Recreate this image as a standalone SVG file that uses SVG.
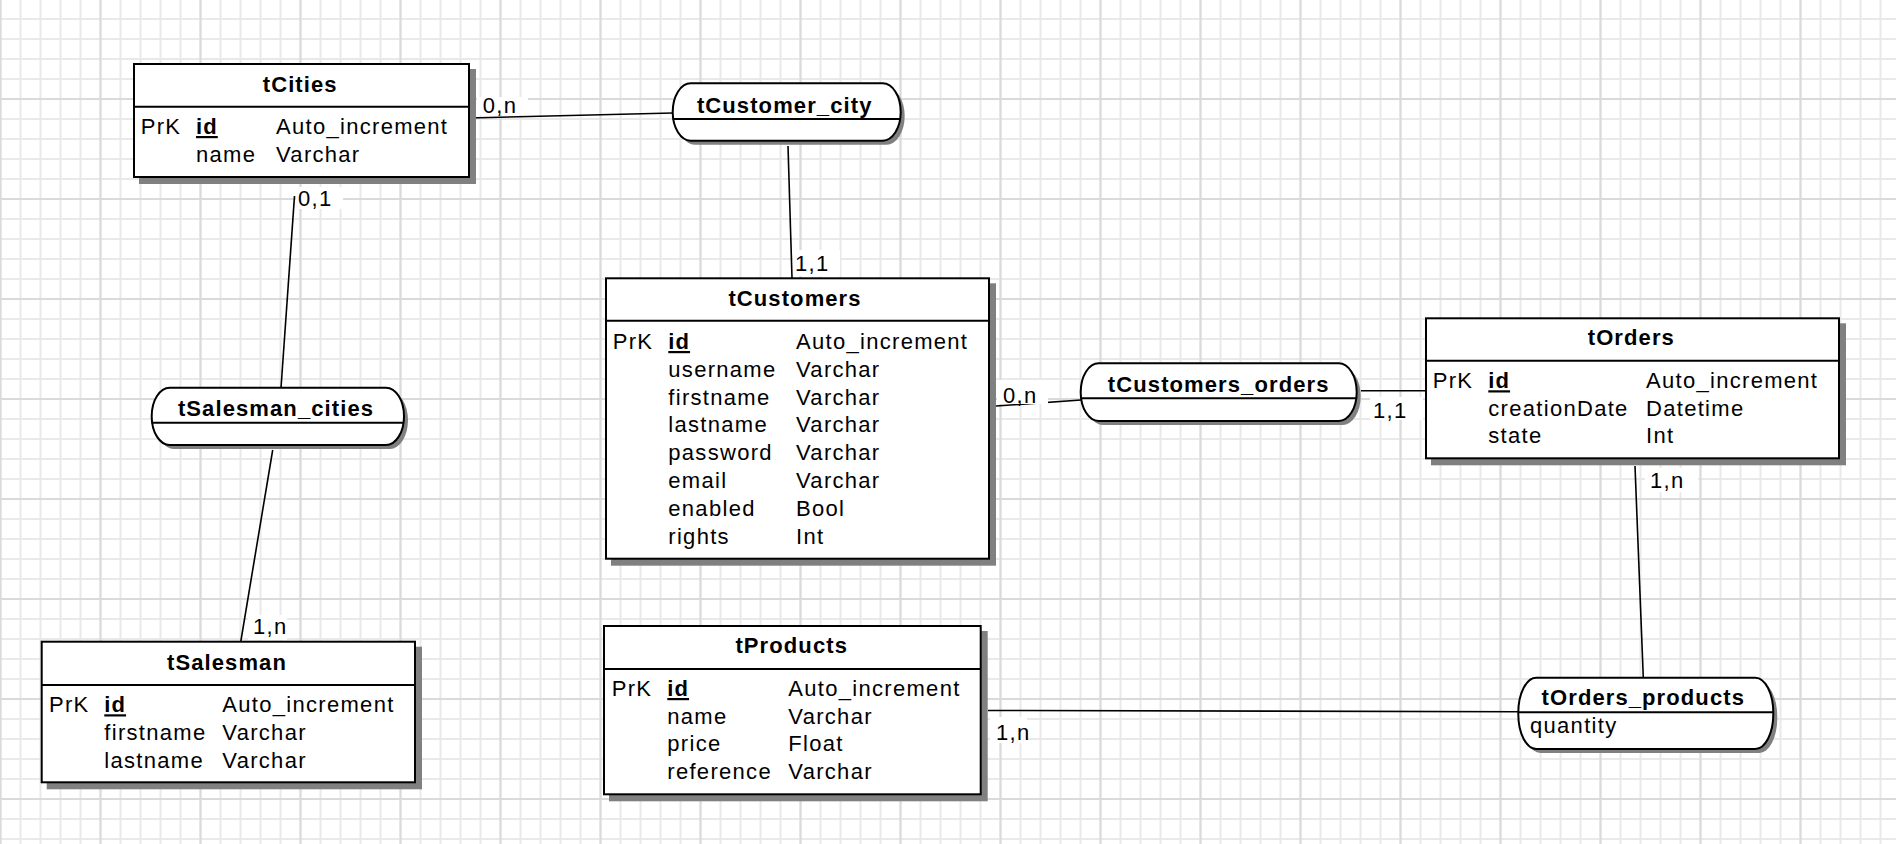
<svg xmlns="http://www.w3.org/2000/svg" width="1896" height="844" viewBox="0 0 1896 844">
<defs>
<pattern id="minor" patternUnits="userSpaceOnUse" x="-9.5" y="-11" width="20" height="20">
<path d="M10 0V20M0 10H20" stroke="#e9e9e9" stroke-width="2" fill="none"/>
</pattern>
<pattern id="major" patternUnits="userSpaceOnUse" x="-49.5" y="-51" width="100" height="100">
<path d="M50 0V100M0 50H100" stroke="#dadada" stroke-width="2" fill="none"/>
</pattern>
</defs>
<style>
text{font-family:"Liberation Sans",Arial,sans-serif;font-size:22px;fill:#000;letter-spacing:1.3px}
.t{font-weight:bold;text-anchor:middle;letter-spacing:1.1px}
.k{font-weight:bold;text-decoration:underline;letter-spacing:1.1px}
.box{fill:#fff;stroke:#000;stroke-width:2}
.sh{fill:#808080}
.sep{stroke:#000;stroke-width:2}
.pill{fill:#fff;stroke:#000;stroke-width:2}
.con line{stroke:#000;stroke-width:1.6}
.lb{fill:#fff}
</style>
<rect width="1896" height="844" fill="#fff"/>
<rect width="1896" height="844" fill="url(#minor)"/>
<rect width="1896" height="844" fill="url(#major)"/>

<g id="connectors" class="con">
<line x1="469" y1="118" x2="673" y2="113"/>
<line x1="788" y1="146" x2="792" y2="278"/>
<line x1="294.5" y1="196" x2="281" y2="388"/>
<line x1="272.7" y1="450" x2="240.7" y2="642"/>
<line x1="996" y1="406" x2="1081" y2="400"/>
<line x1="1361" y1="390.7" x2="1426" y2="390.7"/>
<line x1="1635" y1="466" x2="1643.3" y2="678"/>
<line x1="988" y1="710.5" x2="1518" y2="711.7"/>
<rect class="lb" x="477" y="97" width="51" height="18"/>
<text x="482.7" y="112.7">0,n</text>
<rect class="lb" x="296" y="187" width="47" height="22"/>
<text x="298" y="206">0,1</text>
<rect class="lb" x="793" y="250" width="47" height="26"/>
<text x="795" y="270.7">1,1</text>
<rect class="lb" x="248" y="615" width="39" height="25"/>
<text x="253" y="634">1,n</text>
<rect class="lb" x="997" y="380" width="51" height="24"/>
<text x="1003" y="403.3">0,n</text>
<rect class="lb" x="1370" y="397" width="53" height="23"/>
<text x="1373" y="418.3">1,1</text>
<rect class="lb" x="1645" y="468" width="53" height="24"/>
<text x="1650" y="488.3">1,n</text>
<rect class="lb" x="990" y="717" width="37" height="26"/>
<text x="996" y="740">1,n</text>
</g>

<g id="tCities">
<rect class="sh" x="139" y="69" width="337" height="115"/>
<rect class="box" x="134" y="64" width="335" height="113"/>
<line class="sep" x1="134" y1="106.7" x2="469" y2="106.7"/>
<text class="t" x="300.2" y="91.7">tCities</text>
<text x="140.7" y="134">PrK</text><text class="k" x="196" y="134">id</text><text x="276" y="134">Auto_increment</text>
<text x="196" y="161.7">name</text><text x="276" y="161.7">Varchar</text>
</g>

<g id="tCustomer_city">
<rect class="sh" x="676.7" y="87.3" width="228" height="57.4" rx="18" ry="28.7"/>
<rect class="pill" x="672.7" y="83.3" width="228" height="57.4" rx="18" ry="28.7"/>
<line class="sep" x1="672.7" y1="119" x2="900.7" y2="119" stroke-width="1.6"/>
<text class="t" x="784.7" y="112.7">tCustomer_city</text>
</g>

<g id="tSalesman_cities">
<rect class="sh" x="155.7" y="391.7" width="252.3" height="57.3" rx="18" ry="28.6"/>
<rect class="pill" x="151.7" y="387.7" width="252.3" height="57.3" rx="18" ry="28.6"/>
<line class="sep" x1="151.7" y1="422.7" x2="404" y2="422.7" stroke-width="1.6"/>
<text class="t" x="276" y="416">tSalesman_cities</text>
</g>

<g id="tCustomers">
<rect class="sh" x="611" y="283.3" width="385" height="282.4"/>
<rect class="box" x="606" y="278.3" width="383" height="280.4"/>
<line class="sep" x1="606" y1="320.7" x2="989" y2="320.7"/>
<text class="t" x="795" y="305.7">tCustomers</text>
<text x="612.7" y="349">PrK</text><text class="k" x="668.3" y="349">id</text><text x="796" y="349">Auto_increment</text>
<text x="668.3" y="376.9">username</text><text x="796" y="376.9">Varchar</text>
<text x="668.3" y="404.5">firstname</text><text x="796" y="404.5">Varchar</text>
<text x="668.3" y="432.3">lastname</text><text x="796" y="432.3">Varchar</text>
<text x="668.3" y="460.1">password</text><text x="796" y="460.1">Varchar</text>
<text x="668.3" y="488.2">email</text><text x="796" y="488.2">Varchar</text>
<text x="668.3" y="516">enabled</text><text x="796" y="516">Bool</text>
<text x="668.3" y="544">rights</text><text x="796" y="544">Int</text>
</g>

<g id="tCustomers_orders">
<rect class="sh" x="1084.7" y="367.3" width="276" height="57.7" rx="18" ry="28.8"/>
<rect class="pill" x="1080.7" y="363.3" width="276" height="57.7" rx="18" ry="28.8"/>
<line class="sep" x1="1080.7" y1="398.3" x2="1356.7" y2="398.3" stroke-width="1.6"/>
<text class="t" x="1218.7" y="392.3">tCustomers_orders</text>
</g>

<g id="tOrders">
<rect class="sh" x="1431" y="323.3" width="415" height="142"/>
<rect class="box" x="1426" y="318.3" width="413" height="140"/>
<line class="sep" x1="1426" y1="360.7" x2="1839" y2="360.7"/>
<text class="t" x="1631.3" y="345">tOrders</text>
<text x="1432.7" y="388.3">PrK</text><text class="k" x="1488.3" y="388.3">id</text><text x="1646" y="388.3">Auto_increment</text>
<text x="1488.3" y="415.5">creationDate</text><text x="1646" y="415.5">Datetime</text>
<text x="1488.3" y="443">state</text><text x="1646" y="443">Int</text>
</g>

<g id="tSalesman">
<rect class="sh" x="46.7" y="646.7" width="375.3" height="142.6"/>
<rect class="box" x="41.7" y="641.7" width="373.3" height="140.6"/>
<line class="sep" x1="41.7" y1="685" x2="415" y2="685"/>
<text class="t" x="227" y="670">tSalesman</text>
<text x="49" y="712.3">PrK</text><text class="k" x="104.3" y="712.3">id</text><text x="222.3" y="712.3">Auto_increment</text>
<text x="104.3" y="740">firstname</text><text x="222.3" y="740">Varchar</text>
<text x="104.3" y="767.7">lastname</text><text x="222.3" y="767.7">Varchar</text>
</g>

<g id="tProducts">
<rect class="sh" x="609" y="631" width="378.7" height="170.3"/>
<rect class="box" x="604" y="626" width="376.7" height="168.3"/>
<line class="sep" x1="604" y1="669" x2="980.7" y2="669"/>
<text class="t" x="791.7" y="653.3">tProducts</text>
<text x="611.7" y="696">PrK</text><text class="k" x="667.3" y="696">id</text><text x="788.3" y="696">Auto_increment</text>
<text x="667.3" y="723.7">name</text><text x="788.3" y="723.7">Varchar</text>
<text x="667.3" y="751.4">price</text><text x="788.3" y="751.4">Float</text>
<text x="667.3" y="779.2">reference</text><text x="788.3" y="779.2">Varchar</text>
</g>

<g id="tOrders_products">
<rect class="sh" x="1522.3" y="681.7" width="255" height="71.3" rx="18" ry="35"/>
<rect class="pill" x="1518.3" y="677.7" width="255" height="71.3" rx="18" ry="35"/>
<line class="sep" x1="1518.3" y1="712.3" x2="1773.3" y2="712.3" stroke-width="1.6"/>
<text class="t" x="1643.3" y="705">tOrders_products</text>
<text x="1530" y="733.3">quantity</text>
</g>
</svg>
